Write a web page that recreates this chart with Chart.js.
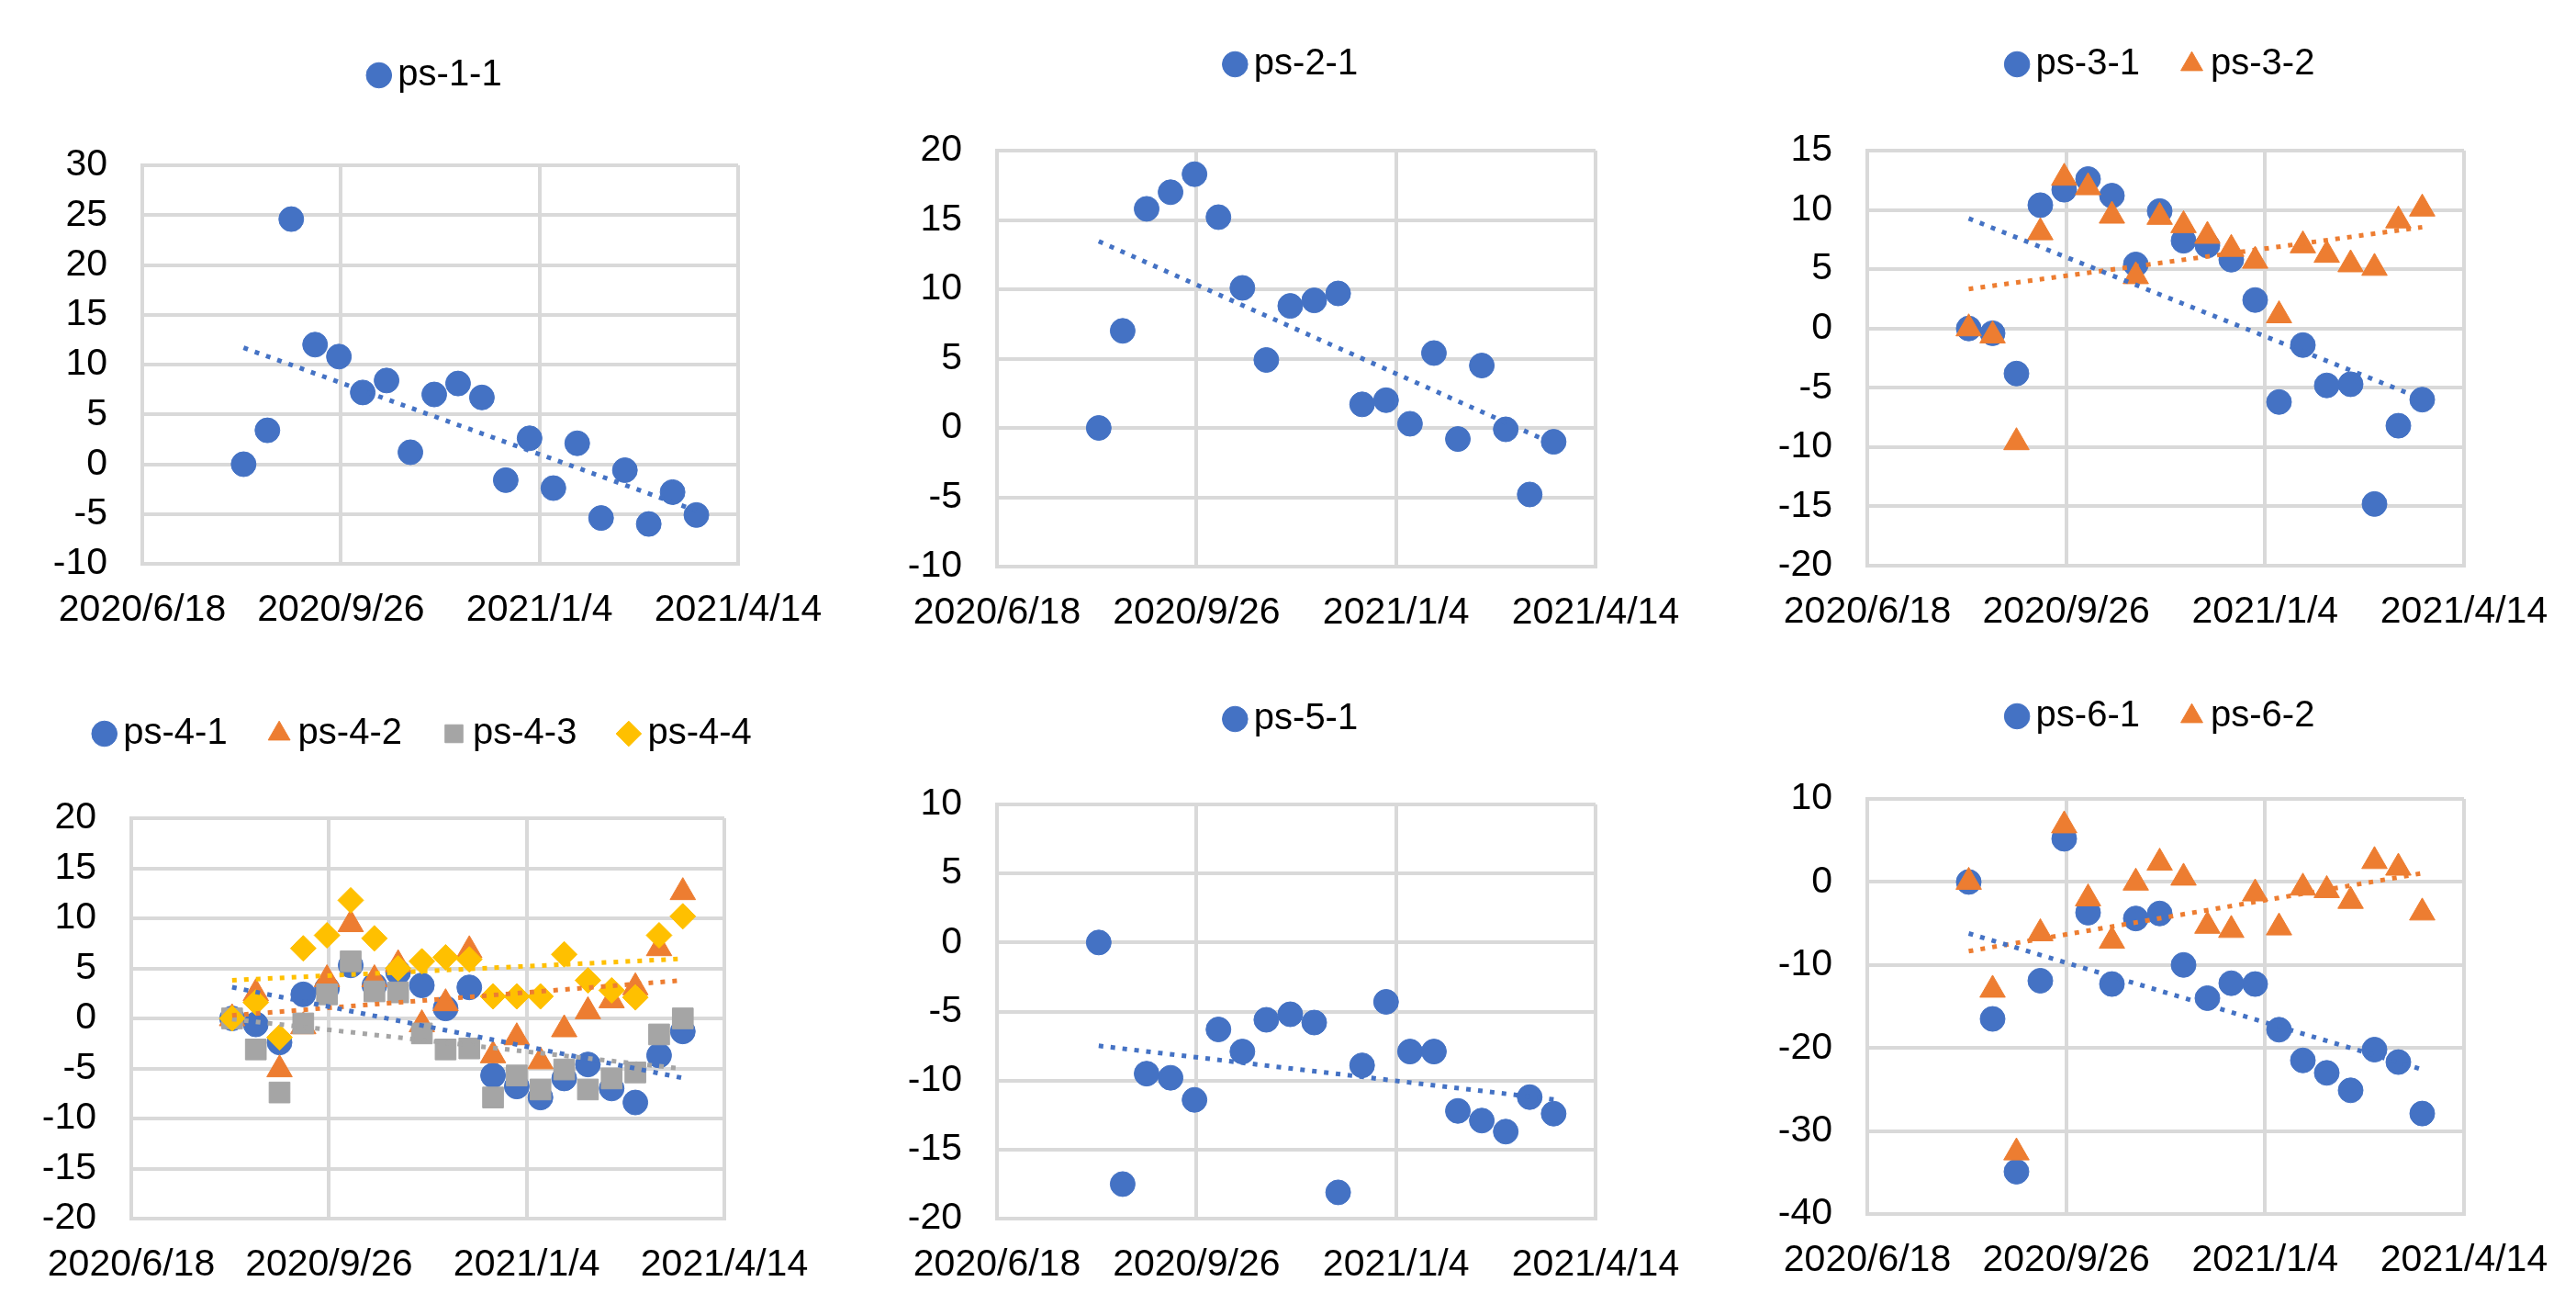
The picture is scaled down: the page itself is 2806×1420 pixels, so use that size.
<!DOCTYPE html>
<html>
<head>
<meta charset="utf-8">
<script src="https://cdn.jsdelivr.net/npm/chart.js@4.4.0/dist/chart.umd.min.js"></script>
<style>
  html, body { margin: 0; padding: 0; background: #fff; }
  #wrap { position: relative; width: 2806px; height: 1420px; overflow: hidden; background: #fff; }
  #wrap canvas { position: absolute; }
</style>
</head>
<body>
<div id="wrap">
  <canvas id="c1"></canvas>
  <canvas id="c2"></canvas>
  <canvas id="c3"></canvas>
  <canvas id="c4"></canvas>
  <canvas id="c5"></canvas>
  <canvas id="c6"></canvas>
</div>
<script>
// acquisition dates (12-day revisit)
const dates = ['2020/8/8', '2020/8/20', '2020/9/1', '2020/9/13', '2020/9/25', '2020/10/7', '2020/10/19',
  '2020/10/31', '2020/11/12', '2020/11/24', '2020/12/6', '2020/12/18', '2020/12/30', '2021/1/11',
  '2021/1/23', '2021/2/4', '2021/2/16', '2021/2/28', '2021/3/12', '2021/3/24'];
const xTicks = ['2020/6/18', '2020/9/26', '2021/1/4', '2021/4/14'];

const ps11 = [0, 3.4, 24.6, 12.0, 10.8, 7.2, 8.4, 1.2, 7.0, 8.1, 6.7, -1.6, 2.6, -2.4, 2.1, -5.4, -0.6, -6.0, -2.8, -5.1];
const ps21 = [0, 7.0, 15.8, 17.0, 18.3, 15.2, 10.1, 4.9, 8.8, 9.2, 9.7, 1.7, 2.0, 0.3, 5.4, -0.8, 4.5, -0.1, -4.8, -1.0];
const ps31 = [0, -0.4, -3.8, 10.4, 11.7, 12.6, 11.2, 5.4, 9.9, 7.4, 7.0, 5.8, 2.4, -6.2, -1.4, -4.8, -4.7, -14.8, -8.2, -6.0];
const ps32 = [0, -0.6, -9.6, 8.1, 12.7, 11.9, 9.5, 4.4, 9.4, 8.7, 7.8, 6.7, 5.7, 1.1, 7.0, 6.2, 5.4, 5.1, 9.1, 10.1];
const ps41 = [0, -0.6, -2.4, 2.4, 3.0, 5.3, 3.3, 4.6, 3.3, 1.0, 3.1, -5.7, -6.8, -7.9, -6.0, -4.6, -7.0, -8.4, -3.7, -1.3];
const ps42 = [0, 2.5, -5.1, -0.8, 3.9, 9.4, 3.9, 5.4, -0.6, 1.5, 6.8, -3.7, -1.9, -4.3, -1.1, 0.7, 1.8, 3.1, 7.0, 12.6];
const ps43 = [0, -3.1, -7.4, -0.5, 2.4, 5.7, 2.7, 2.6, -1.5, -3.1, -3.0, -7.9, -5.7, -7.1, -5.1, -7.1, -6.0, -5.4, -1.6, 0];
const ps44 = [0, 1.6, -1.9, 7.0, 8.3, 11.8, 8.0, 5.0, 5.7, 6.1, 5.9, 2.2, 2.2, 2.2, 6.4, 3.8, 2.8, 2.1, 8.3, 10.2];
const ps51 = [0, -17.5, -9.5, -9.8, -11.4, -6.3, -7.9, -5.6, -5.2, -5.8, -18.1, -8.9, -4.3, -7.9, -7.9, -12.2, -12.9, -13.7, -11.2, -12.4];
const ps61 = [0, -16.5, -34.9, -11.9, 5.2, -3.7, -12.3, -4.4, -3.8, -10.0, -14.0, -12.2, -12.3, -17.8, -21.5, -23.0, -25.1, -20.2, -21.7, -27.9];
const ps62 = [0, -13.0, -32.6, -6.2, 6.8, -2.0, -7.1, -0.1, 2.3, 0.5, -5.3, -5.8, -1.4, -5.5, -0.7, -1.0, -2.3, 2.5, 1.7, -3.7];

const yTicks1 = [-10, -5, 0, 5, 10, 15, 20, 25, 30];
const yTicks2 = [-10, -5, 0, 5, 10, 15, 20];
const yTicks3 = [-20, -15, -10, -5, 0, 5, 10, 15];
const yTicks4 = [-20, -15, -10, -5, 0, 5, 10, 15, 20];
const yTicks5 = [-20, -15, -10, -5, 0, 5, 10];
const yTicks6 = [-40, -30, -20, -10, 0, 10];

const FONT = "'Liberation Sans', Arial, sans-serif";
const GRID = '#d9d9d9';
const colors = ['#4472C4', '#ED7D31', '#A5A5A5', '#FFC000'];
const styles = ['circle', 'triangle', 'rect', 'rectRot'];
const radii = [13.5, 16, 16, 14];

// excel style day numbers so the axis steps by 100 days
function serial(s) {
  const p = s.split('/').map(Number);
  return (Date.UTC(p[0], p[1] - 1, p[2]) - Date.UTC(1899, 11, 30)) / 86400000;
}
function dateLabel(v) {
  const d = new Date(Date.UTC(1899, 11, 30) + v * 86400000);
  return d.getUTCFullYear() + '/' + (d.getUTCMonth() + 1) + '/' + d.getUTCDate();
}
const xs = dates.map(serial);

// least squares line, like the excel linear trendline
function trend(vals) {
  const n = xs.length;
  let mx = 0, my = 0;
  for (let i = 0; i < n; i++) { mx += xs[i]; my += vals[i]; }
  mx /= n; my /= n;
  let sxy = 0, sxx = 0;
  for (let i = 0; i < n; i++) { sxy += (xs[i] - mx) * (vals[i] - my); sxx += (xs[i] - mx) * (xs[i] - mx); }
  const b = sxy / sxx, a = my - b * mx;
  return [{x: xs[0], y: a + b * xs[0]}, {x: xs[n - 1], y: a + b * xs[n - 1]}];
}

// fixed legend height; legend kept on one row, centred over the plot even when wider
const legendBox = {
  id: 'legendBox',
  beforeInit(chart, args, opts) {
    if (!chart.legend) return;
    const fit = chart.legend.fit;
    chart.legend.fit = function () {
      this.maxWidth = Math.max(this.maxWidth, 900);
      fit.call(this);
      this.height = opts.height;
    };
  },
  afterLayout(chart) {
    const lg = chart.legend;
    if (!lg) return;
    const c = (chart.chartArea.left + chart.chartArea.right) / 2;
    lg.left = c - 450;
    lg.right = c + 450;
    lg.width = 900;
    lg.adjustHitBoxes();
  }
};

function makePanel(id, box, series, yTicks) {
  const cv = document.getElementById(id);
  cv.width = box.w; cv.height = box.h;
  cv.style.left = box.left + 'px'; cv.style.top = box.top + 'px';
  cv.style.width = box.w + 'px'; cv.style.height = box.h + 'px';

  const n = series.length;
  const datasets = [];
  series.forEach((s, i) => {
    datasets.push({
      label: s.name,
      data: s.values.map((v, k) => ({x: xs[k], y: v})),
      pointStyle: styles[i],
      pointRadius: radii[i],
      pointHoverRadius: radii[i],
      backgroundColor: colors[i],
      borderColor: colors[i],
      pointBorderWidth: 1,
      order: n - i
    });
  });
  series.forEach((s, i) => {
    datasets.push({
      label: 'trend ' + s.name,
      data: trend(s.values),
      showLine: true,
      pointRadius: 0,
      borderColor: colors[i],
      backgroundColor: colors[i],
      borderWidth: 5,
      borderDash: [5, 8],
      borderCapStyle: 'butt',
      order: 0
    });
  });

  const tickFont = {family: FONT, size: 41};
  new Chart(cv, {
    type: 'scatter',
    data: {datasets},
    plugins: [legendBox],
    options: {
      responsive: false,
      animation: false,
      devicePixelRatio: 1,
      layout: {padding: {left: 0, right: box.padR, top: box.padT, bottom: 0}},
      plugins: {
        legendBox: {height: box.legendH},
        tooltip: {enabled: false},
        legend: {
          position: 'top',
          fullSize: false,
          labels: {
            usePointStyle: true,
            boxWidth: 1,
            boxHeight: 19.5,
            padding: 56,
            color: '#000',
            font: {family: FONT, size: 40},
            filter: item => !item.text.startsWith('trend'),
            sort: (a, b) => a.datasetIndex - b.datasetIndex
          }
        }
      },
      scales: {
        x: {
          type: 'linear',
          min: serial(xTicks[0]),
          max: serial(xTicks[xTicks.length - 1]),
          afterBuildTicks: sc => { sc.ticks = xTicks.map(t => ({value: serial(t)})); },
          afterFit: sc => { sc.height = box.xH; },
          ticks: {callback: v => dateLabel(v), maxRotation: 0, minRotation: 0, autoSkip: false,
            padding: 26, color: '#000', font: tickFont},
          grid: {color: GRID, lineWidth: 4, drawTicks: false},
          border: {color: GRID, width: 4}
        },
        y: {
          min: yTicks[0],
          max: yTicks[yTicks.length - 1],
          afterBuildTicks: sc => { sc.ticks = yTicks.map(t => ({value: t})); },
          afterFit: sc => { sc.width = box.yW; },
          ticks: {padding: 38, color: '#000', font: tickFont},
          grid: {color: GRID, lineWidth: 4, drawTicks: false},
          border: {color: GRID, width: 4}
        }
      }
    }
  });
}

makePanel('c1', {left: 0, top: -10, w: 935, h: 715, yW: 155, padR: 131, padT: 16, legendH: 174, xH: 91},
  [{name: 'ps-1-1', values: ps11}], yTicks1);
makePanel('c2', {left: 935, top: -10, w: 935, h: 715, yW: 151, padR: 132, padT: 4, legendH: 170, xH: 88},
  [{name: 'ps-2-1', values: ps21}], yTicks2);
makePanel('c3', {left: 1870, top: -10, w: 936, h: 715, yW: 164, padR: 122, padT: 4, legendH: 170, xH: 89},
  [{name: 'ps-3-1', values: ps31}, {name: 'ps-3-2', values: ps32}], yTicks3);
makePanel('c4', {left: 0, top: 695, w: 935, h: 725, yW: 143, padR: 146, padT: 28, legendH: 168, xH: 93},
  [{name: 'ps-4-1', values: ps41}, {name: 'ps-4-2', values: ps42}, {name: 'ps-4-3', values: ps43}, {name: 'ps-4-4', values: ps44}], yTicks4);
makePanel('c5', {left: 935, top: 695, w: 935, h: 725, yW: 151, padR: 132, padT: 12, legendH: 169, xH: 93},
  [{name: 'ps-5-1', values: ps51}], yTicks5);
makePanel('c6', {left: 1870, top: 695, w: 936, h: 725, yW: 164, padR: 122, padT: 9, legendH: 166, xH: 98},
  [{name: 'ps-6-1', values: ps61}, {name: 'ps-6-2', values: ps62}], yTicks6);
</script>
</body>
</html>
